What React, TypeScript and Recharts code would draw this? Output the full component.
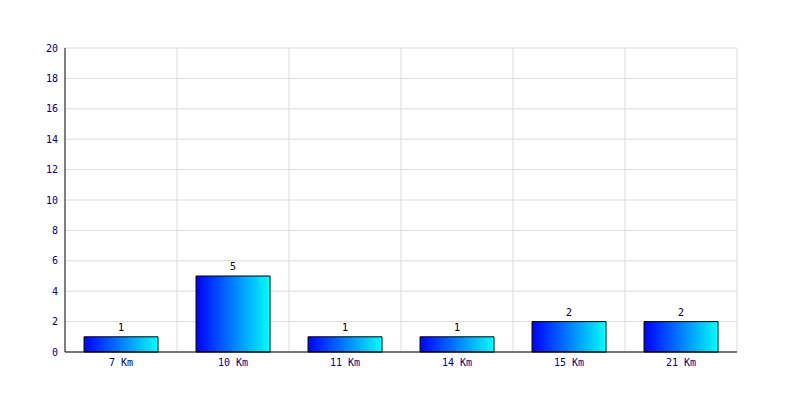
import { BarChart, Bar, XAxis, YAxis, CartesianGrid, LabelList } from "recharts";

const categories = ["7 Km", "10 Km", "11 Km", "14 Km", "15 Km", "21 Km"];
const counts = [1, 5, 1, 1, 2, 2];
const yTicks = [0, 2, 4, 6, 8, 10, 12, 14, 16, 18, 20];

const data = categories.map((name, i) => ({ name, value: counts[i] }));

const font = "'DejaVu Sans Mono', monospace";
const labelColor = "#000080";

export default function App() {
  return (
    <div style={{ position: "absolute", left: 0, top: 0, background: "#fff" }}>
      <BarChart
        width={800}
        height={400}
        data={data}
        margin={{ top: 48, right: 63, bottom: 0, left: 8 }}
        barCategoryGap="17%"
      >
        <defs>
          <linearGradient id="barFill" x1="0" y1="0" x2="1" y2="0">
            <stop offset="0%" stopColor="#0000ff" />
            <stop offset="100%" stopColor="#00ffff" />
          </linearGradient>
        </defs>
        <CartesianGrid
          stroke="#dcdcdc"
          strokeWidth={1}
          verticalCoordinatesGenerator={({ offset }: any) =>
            categories.map((_, i) => offset.left + ((i + 1) * offset.width) / categories.length)
          }
        />
        <XAxis
          dataKey="name"
          height={48}
          tickLine={false}
          tickSize={5}
          tickMargin={2}
          axisLine={{ stroke: "#000" }}
          tick={{ fill: labelColor, fontSize: 10, fontFamily: font }}
          interval={0}
        />
        <YAxis
          width={57}
          domain={[0, 20]}
          ticks={yTicks}
          tickLine={false}
          tickSize={5}
          tickMargin={2}
          axisLine={{ stroke: "#000" }}
          tick={{ fill: labelColor, fontSize: 10, fontFamily: font }}
        />
        <Bar dataKey="value" fill="url(#barFill)" stroke="#000" strokeWidth={1} isAnimationActive={false}>
          <LabelList dataKey="value" position="top" offset={6} fill="#000" fontSize={10} fontFamily={font} />
        </Bar>
      </BarChart>
    </div>
  );
}
